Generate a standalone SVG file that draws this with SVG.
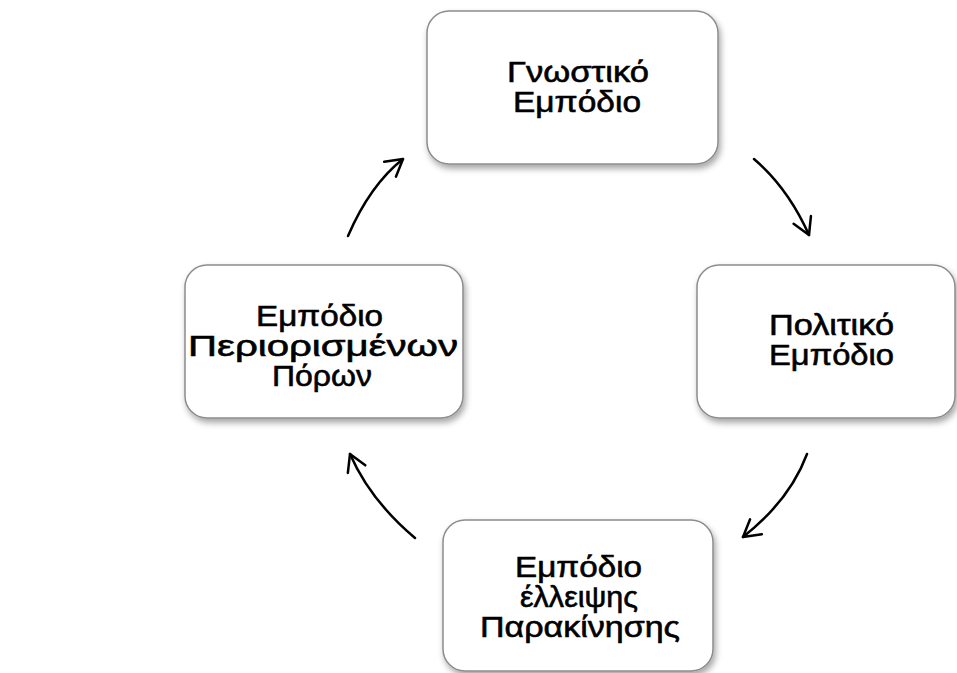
<svg xmlns="http://www.w3.org/2000/svg" width="957" height="673" viewBox="0 0 957 673">
<style>
.box{fill:#fff;stroke:#8c8c8c;stroke-width:1.5;filter:url(#sh)}
.lbl{font-family:"Liberation Sans",Arial,sans-serif;font-size:30px;fill:#000;stroke:#000;stroke-width:0.6}
.conn{fill:none;stroke:#000;stroke-width:2.5;stroke-linecap:round;marker-end:url(#ah)}
</style>
<defs>
<filter id="sh" x="-10%" y="-10%" width="125%" height="130%">
<feDropShadow dx="2" dy="4" stdDeviation="3" flood-color="#000" flood-opacity="0.35"/>
</filter>
<marker id="ah" markerUnits="userSpaceOnUse" markerWidth="30" markerHeight="30" refX="0" refY="0" orient="auto" overflow="visible">
<path d="M-16.5,-9.5 L0,0 L-16.5,9.5" fill="none" stroke="#000" stroke-width="2.5" stroke-linecap="round" stroke-linejoin="round"/>
</marker>
</defs>
<rect width="957" height="673" fill="#fff"/>
<g id="connectors">
<path class="conn" d="M754,159 Q788,188 809,235"/>
<path class="conn" d="M807,454 Q790,500 743,537"/>
<path class="conn" d="M415,538 Q370,500 350,454"/>
<path class="conn" d="M348,236 Q370,185 403,159"/>
</g>
<g id="node-gnostiko">
<rect class="box" x="427" y="11" width="291" height="153" rx="22"/>
<text class="lbl" x="507" y="82" textLength="142" lengthAdjust="spacingAndGlyphs">Γνωστικό</text>
<text class="lbl" x="513" y="112" textLength="128" lengthAdjust="spacingAndGlyphs">Εμπόδιο</text>
</g>
<g id="node-politiko">
<rect class="box" x="697" y="265" width="258" height="153" rx="22"/>
<text class="lbl" x="769" y="335" textLength="125" lengthAdjust="spacingAndGlyphs">Πολιτικό</text>
<text class="lbl" x="769" y="365" textLength="125" lengthAdjust="spacingAndGlyphs">Εμπόδιο</text>
</g>
<g id="node-parakinisi">
<rect class="box" x="443" y="520" width="270" height="151" rx="22"/>
<text class="lbl" x="515" y="577" textLength="127" lengthAdjust="spacingAndGlyphs">Εμπόδιο</text>
<text class="lbl" x="520" y="607" textLength="118" lengthAdjust="spacingAndGlyphs">έλλειψης</text>
<text class="lbl" x="480" y="637" textLength="200" lengthAdjust="spacingAndGlyphs">Παρακίνησης</text>
</g>
<g id="node-poroi">
<rect class="box" x="185" y="265" width="278" height="153" rx="22"/>
<text class="lbl" x="256" y="326" textLength="127" lengthAdjust="spacingAndGlyphs">Εμπόδιο</text>
<text class="lbl" x="188" y="356" textLength="270" lengthAdjust="spacingAndGlyphs">Περιορισμένων</text>
<text class="lbl" x="272" y="386" textLength="100" lengthAdjust="spacingAndGlyphs">Πόρων</text>
</g>
</svg>
